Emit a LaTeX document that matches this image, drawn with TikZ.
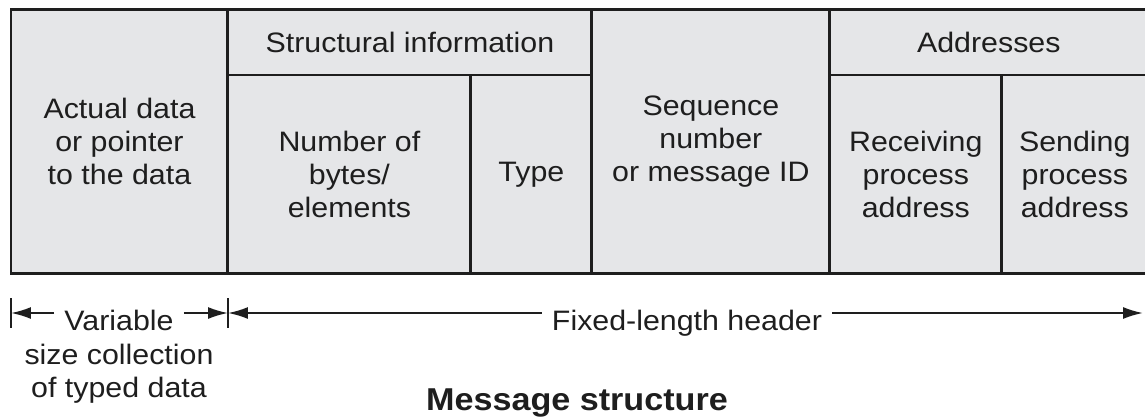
\documentclass[tikz,border=0pt]{standalone}
\usepackage{fontspec}
\setmainfont{Liberation Sans}[FakeStretch=1.08]
\usepackage{tikz}
\usetikzlibrary{positioning,arrows.meta}
\definecolor{cellgray}{RGB}{229,230,232}
\definecolor{inkgray}{RGB}{30,30,30}
\newcommand{\cellfont}{\fontsize{16}{18.8}\selectfont}

\tikzset{
  cell/.style={rectangle, draw=inkgray, line width=1.7pt, fill=cellgray, inner sep=0pt, outer sep=0pt,
    align=center, font=\cellfont, text=inkgray, anchor=north west},
  dimtext/.style={inner sep=0pt, align=center, font=\cellfont, text=inkgray},
  dimline/.style={line width=1.1pt, draw=inkgray, -{Latex[length=0.4cm,width=0.24cm]}},
  dimtick/.style={line width=1.3pt, draw=inkgray}
}

\begin{document}
\begin{tikzpicture}[x=0.02cm, y=-0.02cm]

    \useasboundingbox (0,0) rectangle (1145,417);
    \clip (0,0) rectangle (1145,417);

    % Cells
    \node[cell, minimum width=4.34cm, minimum height=5.30cm] (data) at (11,9) {Actual data\\or pointer\\to the data};
    \node[cell, minimum width=7.28cm, minimum height=1.32cm] (struct) at (data.north east) {Structural information};
    \node[cell, minimum width=4.86cm, minimum height=3.98cm] (bytes) at (struct.south west) {Number of\\bytes/\\elements};
    \node[cell, minimum width=2.42cm, minimum height=3.98cm] (type) at (bytes.north east) {Type};
    \node[cell, minimum width=4.76cm, minimum height=5.30cm] (seq) at (struct.north east) {Sequence\\number\\or message ID};
    \node[cell, minimum width=6.36cm, minimum height=1.32cm] (addr) at (seq.north east) {Addresses};
    \node[cell, minimum width=3.44cm, minimum height=3.98cm] (recv) at (addr.south west) {Receiving\\process\\address};
    \node[cell, minimum width=2.92cm, minimum height=3.98cm] (send) at (recv.north east) {Sending\\process\\address};

    % Dimension line
    \coordinate (t0) at (11,313);
    \coordinate (t1) at (228,313);
    \coordinate (t2) at (1143,313);
    \node[dimtext, anchor=base] (var) at (119,330) {Variable};
    \node[dimtext, anchor=base] (varsize) at (119,364) {size collection};
    \node[dimtext, anchor=base] (vartyped) at (119,397) {of typed data};
    \node[dimtext, anchor=base] (fixed) at (687,330) {Fixed-length header};

    \draw[dimtick] ([yshift=0.3cm]t0) -- ([yshift=-0.3cm]t0);
    \draw[dimtick] ([yshift=0.3cm]t1) -- ([yshift=-0.3cm]t1);
    \draw[dimline] ([xshift=-0.2cm]var.west |- t0) -- (t0);
    \draw[dimline] ([xshift=0.2cm]var.east |- t0) -- (t1);
    \draw[dimline] ([xshift=-0.2cm]fixed.west |- t0) -- (t1);
    \draw[dimline] ([xshift=0.2cm]fixed.east |- t0) -- (t2);

    % Caption
    \node[dimtext, anchor=base, font=\fontsize{18}{21}\selectfont\bfseries] (caption) at (577,410) {Message structure};

  \end{tikzpicture}
\end{document}
